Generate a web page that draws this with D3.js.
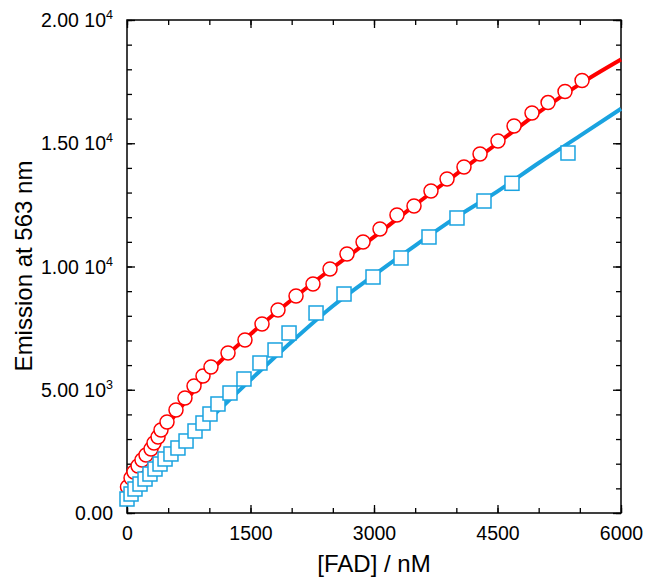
<!DOCTYPE html>
<html>
<head>
<meta charset="utf-8">
<script src="https://cdn.jsdelivr.net/npm/d3@7"></script>
<style>
  body { margin: 0; background: #fff; }
  text { font-family: "Liberation Sans", Arial, Helvetica, sans-serif; fill: #000; }
</style>
</head>
<body>
<svg width="651" height="584"></svg>
<script>
// measured points, red circles
var redX = [6, 49, 85, 134, 182, 231, 292, 328, 377, 413, 486, 595, 704, 814, 923, 1020,
  1227, 1433, 1640, 1834, 2053, 2259, 2466, 2672, 2867, 3073, 3279, 3486, 3692, 3887,
  4093, 4288, 4506, 4701, 4919, 5114, 5320, 5527];
var redY = [1055, 1420, 1663, 1907, 2150, 2353, 2596, 2840, 3083, 3367, 3692, 4178, 4665,
  5152, 5558, 5923, 6491, 7018, 7667, 8235, 8803, 9290, 9899, 10507, 10994, 11521, 12089,
  12454, 13063, 13550, 14037, 14564, 15091, 15700, 16227, 16650, 17100, 17546];

// measured points, blue squares
var blueX = [0, 49, 97, 158, 219, 279, 340, 401, 462, 534, 619, 717, 826, 923, 1008, 1105,
  1251, 1421, 1615, 1798, 1968, 2296, 2636, 2988, 3328, 3668, 4008, 4336, 4676, 5356];
var blueY = [568, 771, 974, 1176, 1379, 1582, 1785, 1988, 2191, 2394, 2637, 2921, 3327,
  3651, 4016, 4422, 4868, 5436, 6085, 6613, 7302, 8114, 8884, 9574, 10345, 11197, 11968,
  12657, 13375, 14604];

// fitted curves
var fitX = [0, 100, 250, 500, 750, 1000, 1500, 2000, 2500, 3000, 3500, 4000, 4500, 5000, 5500, 6000];
var redFit = [700, 1650, 2450, 3600, 4700, 5700, 7250, 8650, 9950, 11200, 12500, 13750, 15000, 16250, 17400, 18400];
var blueFit = [450, 850, 1450, 2250, 3000, 3800, 5400, 6950, 8400, 9650, 10850, 12000, 13050, 14200, 15300, 16400];

var xMajor = [0, 1500, 3000, 4500, 6000];
var yMajor = [0, 5000, 10000, 15000, 20000];
var yLabels = [["0.00", ""], ["5.00 10", "3"], ["1.00 10", "4"], ["1.50 10", "4"], ["2.00 10", "4"]];

var svg = d3.select("svg");
var x = d3.scaleLinear().domain([0, 6000]).range([127, 621]);
var y = d3.scaleLinear().domain([0, 20000]).range([513, 20]);

var xMinor = d3.range(0, 6001, 500);
var yMinor = d3.range(0, 20001, 1000);

function styleAxis(g) {
  g.select(".domain").remove();
  g.selectAll("line").attr("stroke", "#000").attr("stroke-width", 1.3);
}

// minor ticks on all four sides
svg.append("g").attr("transform", "translate(0,513)")
  .call(d3.axisBottom(x).tickValues(xMinor).tickSize(-5).tickFormat(""))
  .call(styleAxis);
svg.append("g").attr("transform", "translate(0,20)")
  .call(d3.axisTop(x).tickValues(xMinor).tickSize(-5).tickFormat(""))
  .call(styleAxis);
svg.append("g").attr("transform", "translate(127,0)")
  .call(d3.axisLeft(y).tickValues(yMinor).tickSize(-5).tickFormat(""))
  .call(styleAxis);
svg.append("g").attr("transform", "translate(621,0)")
  .call(d3.axisRight(y).tickValues(yMinor).tickSize(-5).tickFormat(""))
  .call(styleAxis);

// major ticks
var xAx = svg.append("g").attr("transform", "translate(0,513)")
  .call(d3.axisBottom(x).tickValues(xMajor).tickSize(-8).tickPadding(0).tickFormat(d3.format("d")))
  .call(styleAxis);
xAx.selectAll("text").attr("y", 27).attr("dy", null).style("font-size", "19.5px")
  .style("font-family", "'Liberation Sans', Arial, sans-serif");
svg.append("g").attr("transform", "translate(0,20)")
  .call(d3.axisTop(x).tickValues(xMajor).tickSize(-8).tickFormat(""))
  .call(styleAxis);

var yAx = svg.append("g").attr("transform", "translate(127,0)")
  .call(d3.axisLeft(y).tickValues(yMajor).tickSize(-8).tickFormat(""))
  .call(styleAxis);
yAx.selectAll(".tick").each(function (d, i) {
  var t = d3.select(this).append("text")
    .attr("x", -14).attr("y", 6.5)
    .attr("text-anchor", "end")
    .style("font-size", "19.5px")
    .style("font-family", "'Liberation Sans', Arial, sans-serif");
  t.append("tspan").text(yLabels[i][0]);
  if (yLabels[i][1]) {
    t.append("tspan").attr("dy", -8).style("font-size", "12.5px").text(yLabels[i][1]);
  }
});
svg.append("g").attr("transform", "translate(621,0)")
  .call(d3.axisRight(y).tickValues(yMajor).tickSize(-8).tickFormat(""))
  .call(styleAxis);

// frame
svg.append("rect")
  .attr("x", 127).attr("y", 20).attr("width", 494).attr("height", 493)
  .attr("fill", "none").attr("stroke", "#000").attr("stroke-width", 1.5);

// axis titles
svg.append("text")
  .attr("x", 374).attr("y", 572)
  .attr("text-anchor", "middle")
  .style("font-size", "24px")
  .text("[FAD] / nM");
svg.append("text")
  .attr("transform", "translate(32,266) rotate(-90)")
  .attr("text-anchor", "middle")
  .style("font-size", "24px")
  .text("Emission at 563 nm");

var red = "#ff0000";
var blue = "#1aa3e0";

var line = d3.line()
  .x(function (d) { return x(d[0]); })
  .y(function (d) { return y(d[1]); })
  .curve(d3.curveMonotoneX);

svg.append("path")
  .datum(fitX.map(function (v, i) { return [v, redFit[i]]; }))
  .attr("d", line)
  .attr("fill", "none").attr("stroke", red).attr("stroke-width", 4);
svg.append("path")
  .datum(fitX.map(function (v, i) { return [v, blueFit[i]]; }))
  .attr("d", line)
  .attr("fill", "none").attr("stroke", blue).attr("stroke-width", 4);

svg.append("g").selectAll("circle")
  .data(redX.map(function (v, i) { return [v, redY[i]]; }))
  .enter().append("circle")
  .attr("cx", function (d) { return x(d[0]); })
  .attr("cy", function (d) { return y(d[1]); })
  .attr("r", 7)
  .attr("fill", "#fff").attr("stroke", red).attr("stroke-width", 1.5);

var s = 14;
svg.append("g").selectAll("rect")
  .data(blueX.map(function (v, i) { return [v, blueY[i]]; }))
  .enter().append("rect")
  .attr("x", function (d) { return x(d[0]) - s / 2; })
  .attr("y", function (d) { return y(d[1]) - s / 2; })
  .attr("width", s).attr("height", s)
  .attr("fill", "#fff").attr("stroke", blue).attr("stroke-width", 1.5);
</script>
</body>
</html>
